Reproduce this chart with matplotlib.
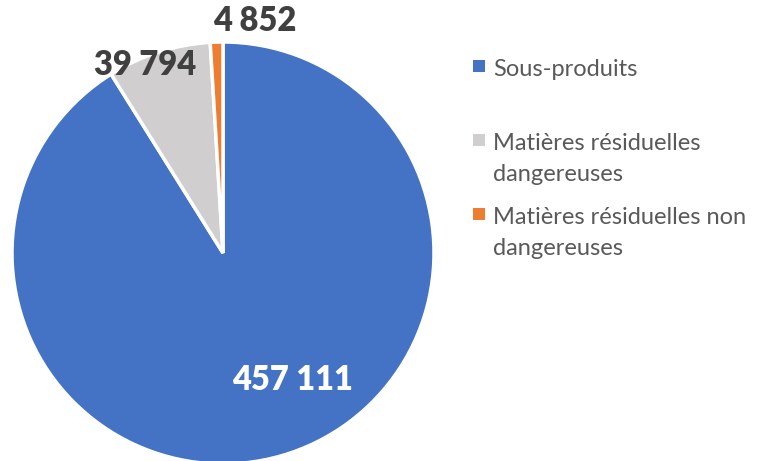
import matplotlib
matplotlib.use("Agg")
import matplotlib.pyplot as plt
from matplotlib.patches import Rectangle
import numpy as np

categories = ["Sous-produits", "Matières résiduelles\ndangereuses", "Matières résiduelles non\ndangereuses"]
values = [457111, 39794, 4852]
value_labels = ["457 111", "39 794", "4 852"]
colors = ["#4472C4", "#D0CECE", "#ED7D31"]

W, H = 769, 461
fig = plt.figure(figsize=(W / 100, H / 100), dpi=100)
plt.rcParams['font.family'] = ['Lato', 'DejaVu Sans']

cx, cy, r = 223, 253, 211
ax = fig.add_axes([(cx - r) / W, (H - cy - r) / H, 2 * r / W, 2 * r / H])
wedges, _ = ax.pie(values, colors=colors, startangle=90, counterclock=False,
                   wedgeprops=dict(edgecolor="white", linewidth=2.5))
ax.set_xlim(-1, 1)
ax.set_ylim(-1, 1)
ax.set_aspect("equal")
ax.axis("off")

# label placement (radius units, relative to centre)
label_pos = [(0.33, -0.60), (-0.37, 0.89), (0.15, 1.10)]
label_colors = ["white", "#404040", "#404040"]
for txt, (x, y), c in zip(value_labels, label_pos, label_colors):
    ax.text(x, y, txt, ha="center", va="center", fontsize=23.5, fontweight="heavy",
            color=c, clip_on=False)

# legend (manual)
leg_y = [66, 140, 214]
for cat, col, y in zip(categories, colors, leg_y):
    fig.patches.append(Rectangle((473 / W, 1 - (y + 6) / H), 12 / W, 12 / H,
                                 transform=fig.transFigure, facecolor=col,
                                 edgecolor="none"))
    fig.text(493 / W, 1 - (y - 7) / H, cat, ha="left", va="top", fontsize=17,
             color="#595959", linespacing=1.57)

fig.savefig("out.png", dpi=100)
